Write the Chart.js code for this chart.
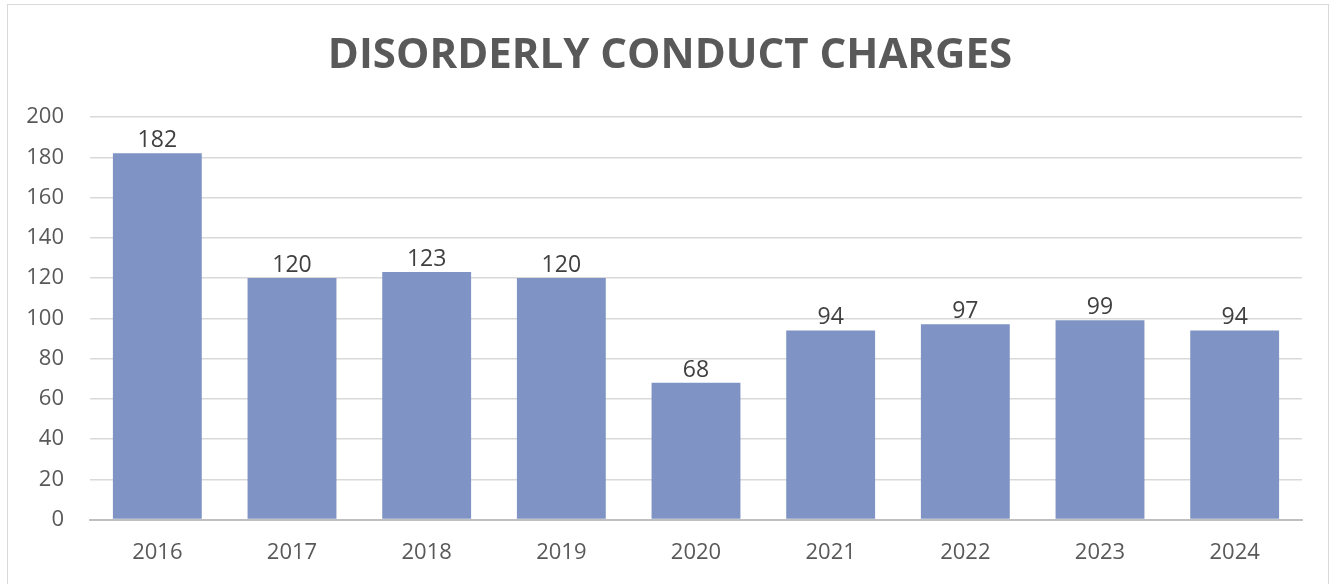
<!DOCTYPE html>
<html>
<head>
<meta charset="utf-8">
<script src="https://cdn.jsdelivr.net/npm/chart.js@4.4.0/dist/chart.umd.min.js"></script>
<style>
    html, body { margin: 0; padding: 0; background: #fff; overflow: hidden; }
    #frame {
        position: absolute; left: 7px; top: 4px; width: 1322px; height: 590px;
        border: 1px solid #d9d9d9; box-sizing: border-box;
    }
    #wrap { position: absolute; left: 0; top: 0; width: 1331px; height: 584px; }
</style>
</head>
<body>
<div id="frame"></div>
<div id="wrap"><canvas id="chart"></canvas></div>
<script>
    const chartTitle = "DISORDERLY CONDUCT CHARGES";
    const years = ["2016", "2017", "2018", "2019", "2020", "2021", "2022", "2023", "2024"];
    const charges = [182, 120, 123, 120, 68, 94, 97, 99, 94];
    const yTicks = [0, 20, 40, 60, 80, 100, 120, 140, 160, 180, 200];

    // Value labels drawn above each bar, plus the title (centred like the original, not on the canvas)
    const barLabels = {
        id: "barLabels",
        afterDatasetsDraw(chart) {
            const ctx = chart.ctx;
            const meta = chart.getDatasetMeta(0);
            ctx.save();
            ctx.font = "23px 'Open Sans'";
            ctx.fillStyle = "#404040";
            ctx.textAlign = "center";
            ctx.textBaseline = "bottom";
            meta.data.forEach((bar, i) => {
                ctx.fillText(charges[i], bar.x, bar.y - 1);
            });

            ctx.font = "bold 42px 'Open Sans'";
            ctx.fillStyle = "#595959";
            ctx.textBaseline = "middle";
            ctx.fillText(chartTitle, 670, 56);
            ctx.restore();
        }
    };

    new Chart(document.getElementById("chart"), {
        type: "bar",
        data: {
            labels: years,
            datasets: [{
                data: charges,
                backgroundColor: "#7f93c5",
                borderWidth: 0,
                barPercentage: 0.66,
                categoryPercentage: 1.0
            }]
        },
        options: {
            responsive: true,
            maintainAspectRatio: false,
            animation: false,
            layout: { padding: { left: 0, right: 29, top: 117, bottom: 6 } },
            plugins: {
                legend: { display: false },
                tooltip: { enabled: false },
                title: { display: false }
            },
            scales: {
                x: {
                    grid: { display: false },
                    border: { color: "#bfbfbf", width: 2 },
                    ticks: {
                        color: "#595959",
                        font: { family: "'Open Sans'", size: 22 },
                        padding: 12
                    }
                },
                y: {
                    min: 0,
                    max: 200,
                    afterBuildTicks(axis) {
                        axis.ticks = yTicks.map(v => ({ value: v }));
                    },
                    afterFit(axis) {
                        axis.width = 90;
                    },
                    grid: { color: "#d9d9d9", lineWidth: 1.5, drawTicks: false },
                    border: { display: false },
                    ticks: {
                        color: "#595959",
                        font: { family: "'Open Sans'", size: 22 },
                        padding: 26
                    }
                }
            }
        },
        plugins: [barLabels]
    });
</script>
</body>
</html>
